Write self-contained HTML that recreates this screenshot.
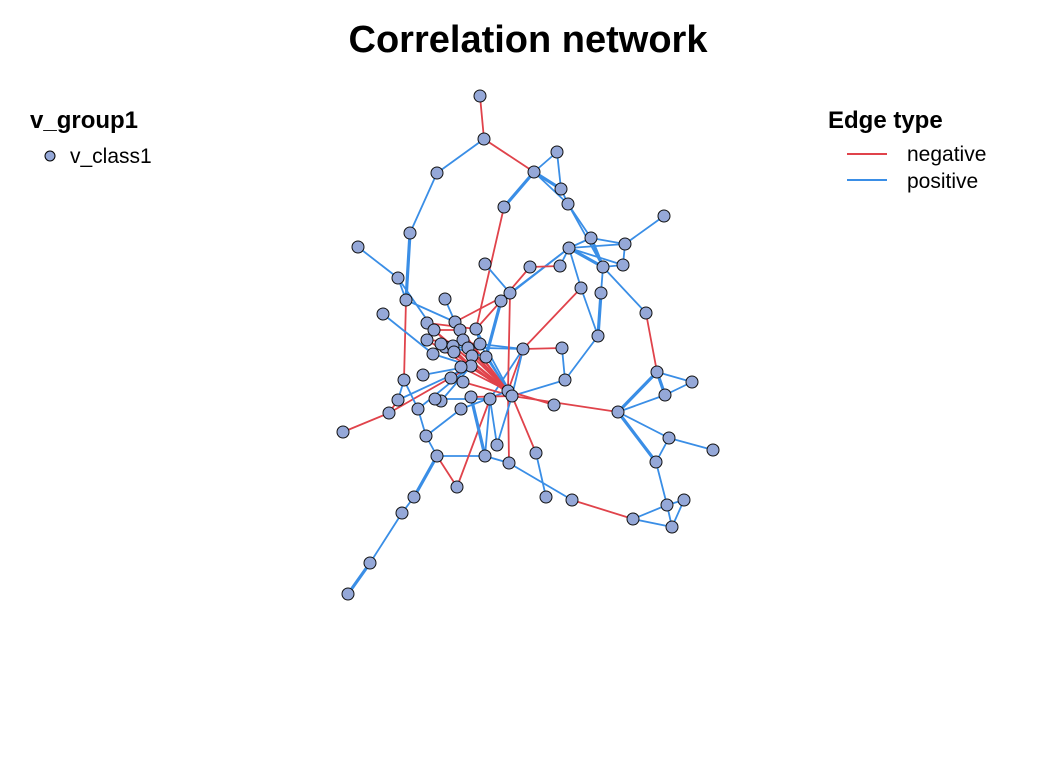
<!DOCTYPE html>
<html><head><meta charset="utf-8"><style>
html,body{margin:0;padding:0;background:#fff;width:1056px;height:768px;overflow:hidden}
svg{display:block}
text{font-family:"Liberation Sans",Arial,sans-serif}
</style></head><body>
<svg width="1056" height="768" viewBox="0 0 1056 768" xmlns="http://www.w3.org/2000/svg">
<text x="528" y="52" text-anchor="middle" font-size="38" font-weight="bold">Correlation network</text>
<text x="30" y="128" font-size="24" font-weight="bold">v_group1</text>
<circle cx="50" cy="156" r="5" fill="#95A8D8" stroke="#000" stroke-width="1"/>
<text x="70" y="163" font-size="21">v_class1</text>
<text x="828" y="128" font-size="24" font-weight="bold">Edge type</text>
<line x1="847" y1="154" x2="887" y2="154" stroke="#E0434B" stroke-width="2"/>
<line x1="847" y1="180" x2="887" y2="180" stroke="#3A8EE6" stroke-width="2"/>
<text x="907" y="161" font-size="21">negative</text>
<text x="907" y="188" font-size="21">positive</text>
<g id="edges" stroke-linecap="round"></g>
<g id="nodes" fill="#95A8D8" stroke="#111" stroke-width="1"></g>
</svg>
<script>
var N={A:[480,96],B:[484,139],C:[437,173],D:[557,152],E:[534,172],F:[561,189],G:[568,204],H:[504,207],I:[664,216],J:[410,233],K:[358,247],L:[591,238],M:[625,244],Nn:[569,248],O:[485,264],P:[530,267],Q:[560,266],R:[603,267],S:[623,265],T:[398,278],U:[445,299],V:[406,300],W:[510,293],X:[501,301],Y:[581,288],Z:[601,293],AA:[383,314],AB:[646,313],AC:[427,323],AD:[455,322],AE:[434,330],AF:[476,329],AG:[460,330],AH:[427,340],AI:[463,340],AJ:[445,347],AK:[441,344],AL:[468,348],AM:[480,344],AN:[453,346],AO:[598,336],AP:[433,354],AQ:[454,352],AR:[523,349],AS:[562,348],AT:[486,357],AU:[472,356],AV:[471,366],AW:[423,375],AX:[461,367],AY:[451,378],AZ:[404,380],BA:[463,382],BB:[565,380],BC:[657,372],BD:[692,382],BE:[508,391],BF:[512,396],BG:[441,401],BH:[665,395],BI:[398,400],BJ:[418,409],BK:[389,413],BL:[471,397],BM:[461,409],BN:[490,399],BO:[435,399],BP:[554,405],BQ:[618,412],BR:[343,432],BS:[426,436],BT:[669,438],BU:[713,450],BV:[497,445],BW:[485,456],BX:[437,456],BY:[509,463],BZ:[536,453],CA:[656,462],CB:[457,487],CC:[546,497],CD:[572,500],CE:[414,497],CF:[667,505],CG:[684,500],CH:[402,513],CI:[633,519],CJ:[672,527],CK:[370,563],CL:[348,594]};
var E=[
"A B r","B C b","B E r","C J b","J V b3","K T b","T V b","T AE b","E D b","E F b3","E G b","E H b3","D F b","H AF r","O W b","F G b","G L b","G R b","L Nn b","L M b","L R b3","M S b","M I b","Nn Q b","Nn R b3","Nn W b","Nn X b","Q P r","P X r","R AB b","AB BC r","R S b","Z AO b3","AO BB b","BB BF b","Y AR r","Y Nn b","AR AS r","AR BE r","AR BN b","W AD r","X AF r","V AD b","U AD b","V AZ r","AA AP b","AD BF r","AE BF r","AK BF r","AH BE r","AF BF b","AM BE b","AT BF b","AC AV r","AG BE r","AI BF r","AN BE r","AQ BF r","AL BE r","AU BE r","AJ AR b","AF AM b","AD AI b","AE AG r","AH AM r","AC AF r","AK AT b","AP AV b","AW AV b","AY AV b","AX BE r","BA BF r","AM AR b","AR BF b","X AT b3","W BE r","BF BQ r","BE BP r","BQ BC b3","BQ BH b","BQ CA b3","BQ BT b","BC BD b","BC BH b3","BH BD b","BT BU b","CA CF b","CA BT b","CF CJ b","CF CG b","CG CJ b","CI CJ b","CI CF b","CD CI r","BZ CC b","BF BZ r","BE BY r","BY CD b","BV BN b","BW BY b","BX BW b","BX CB r","CB BN r","BX CE b3","CE CH b","CH CK b","CK CL b3","BS BX b","BJ BS b","BK BR r","BK BI r","BK AV r","BJ AV b","AZ BI b","BG AV b","BM BS b","BL BW b3","BN BW b","AZ BJ b","BO BN b","BI AV b","BM BE b","BV BF b","BL BF r","BB AS b","Y AO b","S Nn b","M Nn b","Z R b"
];
var eg=document.getElementById('edges'),ng=document.getElementById('nodes'),ns='http://www.w3.org/2000/svg';
E.forEach(function(s){var p=s.split(' '),a=N[p[0]],b=N[p[1]];var l=document.createElementNS(ns,'line');
l.setAttribute('x1',a[0]);l.setAttribute('y1',a[1]);l.setAttribute('x2',b[0]);l.setAttribute('y2',b[1]);
l.setAttribute('stroke',p[2][0]=='r'?'#E0434B':'#3A8EE6');l.setAttribute('stroke-width',p[2]=='b3'?3.2:1.8);eg.appendChild(l);});
for(var k in N){var c=document.createElementNS(ns,'circle');c.setAttribute('cx',N[k][0]);c.setAttribute('cy',N[k][1]);c.setAttribute('r',6);ng.appendChild(c);}
</script>
</body></html>
